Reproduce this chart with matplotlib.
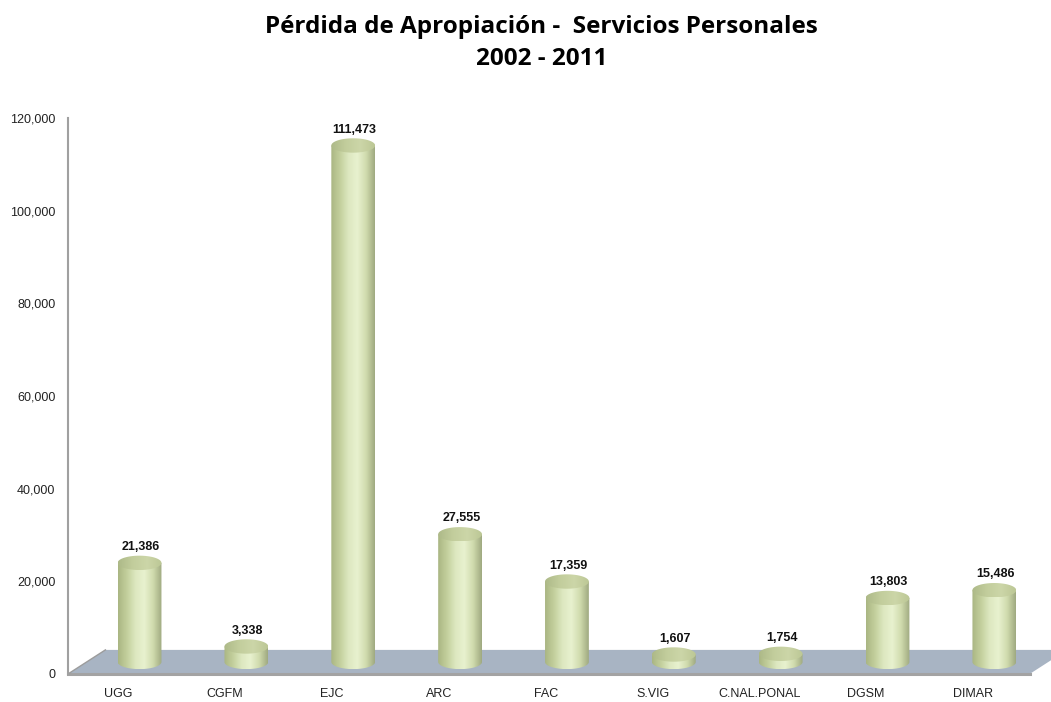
import matplotlib
matplotlib.use("Agg")
import matplotlib.pyplot as plt
import numpy as np
from matplotlib.colors import LinearSegmentedColormap
from matplotlib.patches import Polygon
from matplotlib.ticker import FuncFormatter

categories = ["UGG", "CGFM", "EJC", "ARC", "FAC", "S.VIG", "C.NAL.PONAL", "DGSM", "DIMAR"]
values = [21386, 3338, 111473, 27555, 17359, 1607, 1754, 13803, 15486]
y_ticks = [0, 20000, 40000, 60000, 80000, 100000, 120000]
title = "Pérdida de Apropiación -  Servicios Personales\n2002 - 2011"

# 3D look parameters (category units / value units)
DEPTH_X = 0.35
DEPTH_Y = 5200
HALF_W = 0.205
ELL_H = 1550

body_cmap = LinearSegmentedColormap.from_list(
    "body", ["#a9b582", "#c3cf9c", "#dde8c0", "#e8f1cf", "#d0dbad", "#9fa980"])
top_cmap = LinearSegmentedColormap.from_list(
    "top", ["#adb988", "#c2cd9c", "#ccd6a8", "#bcc795"])

plt.rcParams["font.family"] = ["Liberation Sans", "DejaVu Sans"]

fig = plt.figure(figsize=(10.51, 7.02), dpi=100)
ax = fig.add_axes([0.0647, 0.0399, 0.915, 0.792])
ax.set_xlim(-0.47, 8.53)
ax.set_ylim(0, 120000)

# floor
x0, x1 = ax.get_xlim()
floor = Polygon([(x0, 0), (x1, 0), (x1 + DEPTH_X, DEPTH_Y), (x0 + DEPTH_X, DEPTH_Y)],
                closed=True, facecolor="#a8b4c3", edgecolor="none", clip_on=False, zorder=1)
ax.add_patch(floor)
ax.plot([x0, x1], [0, 0], color="#a3a3a3", lw=2.2, clip_on=False, zorder=2)
ax.plot([x0, x0 + DEPTH_X], [0, DEPTH_Y], color="#9c9c9c", lw=1.0, clip_on=False, zorder=2)

grad = np.linspace(0, 1, 256).reshape(1, -1)
t = np.linspace(0, np.pi, 60)
for i, v in enumerate(values):
    cx = i + DEPTH_X * 0.57
    base = DEPTH_Y * 0.5
    top = base + v
    xl, xr = cx - HALF_W, cx + HALF_W
    # body outline: left side, lower half of base ellipse, right side
    arc_x = cx - HALF_W * np.cos(t)
    arc_y = base - ELL_H * np.sin(t)
    pts = [(xl, top)] + list(zip(arc_x, arc_y)) + [(xr, top)]
    body = Polygon(pts, closed=True, facecolor="none", edgecolor="none")
    ax.add_patch(body)
    im = ax.imshow(grad, cmap=body_cmap, extent=[xl, xr, base - ELL_H, top + ELL_H],
                   aspect="auto", zorder=3, interpolation="bilinear")
    im.set_clip_path(body)
    # top ellipse
    tt = np.linspace(0, 2 * np.pi, 120)
    ell = Polygon(list(zip(cx + HALF_W * np.cos(tt), top + ELL_H * np.sin(tt))),
                  closed=True, facecolor="none", edgecolor="none")
    ax.add_patch(ell)
    im2 = ax.imshow(grad, cmap=top_cmap, extent=[xl, xr, top - ELL_H, top + ELL_H],
                    aspect="auto", zorder=4, interpolation="bilinear")
    im2.set_clip_path(ell)
    ax.annotate(f"{v:,}", (cx, top + ELL_H), xytext=(1, 2), textcoords="offset points",
                ha="center", va="bottom", fontsize=9, fontweight="bold", color="#111111",
                zorder=5)

ax.set_xlim(x0, x1)
ax.set_ylim(0, 120000)
ax.set_xticks(range(len(categories)))
ax.set_xticklabels(categories, fontsize=9, color="#222222")
ax.set_yticks(y_ticks)
ax.yaxis.set_major_formatter(FuncFormatter(lambda y, _: f"{int(y):,}"))
ax.tick_params(axis="y", length=0, pad=9, labelsize=9, labelcolor="#222222")
ax.tick_params(axis="x", length=0, pad=10)
for s in ["top", "right", "bottom"]:
    ax.spines[s].set_visible(False)
ax.spines["left"].set_color("#a0a0a0")
ax.spines["left"].set_linewidth(1.5)
ax.set_facecolor("none")

fig.suptitle(title, x=0.515, y=0.978, fontsize=17.5, fontweight="bold",
             family=["Open Sans", "DejaVu Sans"], linespacing=1.4)

fig.savefig("out.png", dpi=100)
